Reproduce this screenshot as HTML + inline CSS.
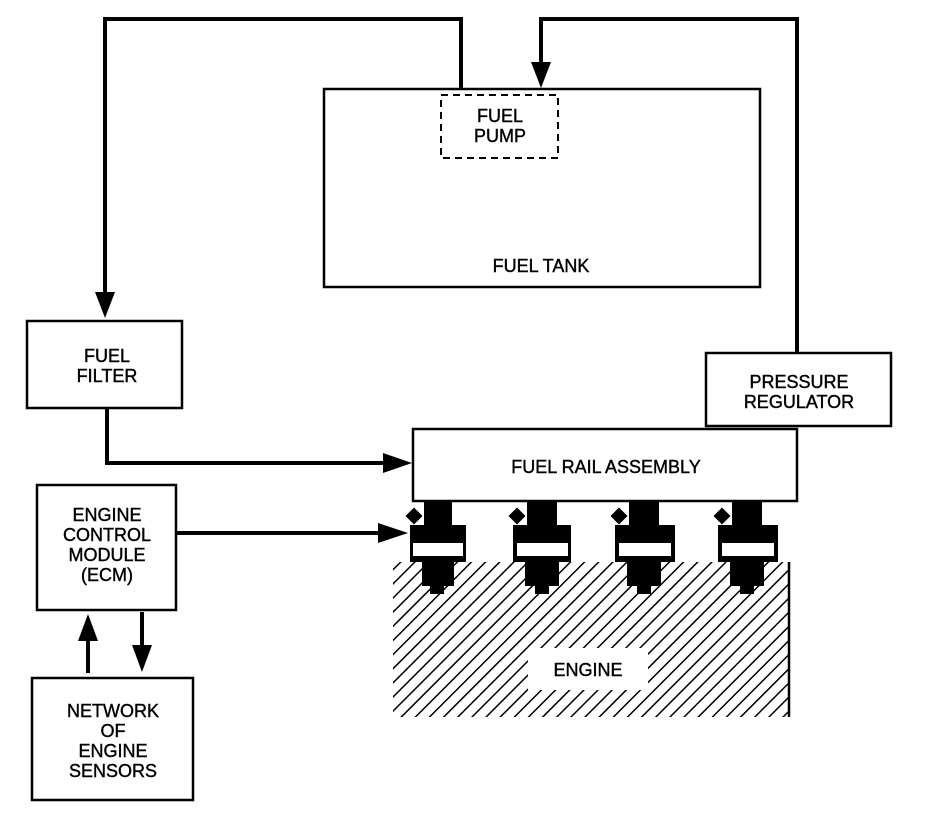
<!DOCTYPE html>
<html><head><style>
html,body{margin:0;padding:0;background:#fff;}
svg{display:block}
text{font-family:"Liberation Sans",sans-serif;font-size:18px;fill:#000;text-anchor:middle;stroke:#000;stroke-width:0.4;}
</style></head><body>
<svg width="928" height="816" viewBox="0 0 928 816" xmlns="http://www.w3.org/2000/svg">
<defs>
<pattern id="h" patternUnits="userSpaceOnUse" width="10" height="10" patternTransform="rotate(45)">
<line x1="0" y1="0" x2="0" y2="10" stroke="#000" stroke-width="3"/>
</pattern>
</defs>
<g fill="none" stroke="#000">
<rect x="324" y="89" width="436" height="198" stroke-width="2.5"/>
<rect x="441" y="95" width="117" height="63" stroke-width="2" stroke-dasharray="7,5"/>
<rect x="27" y="321" width="155" height="87" stroke-width="2.5"/>
<rect x="706" y="353" width="185" height="73" stroke-width="2.5"/>
<rect x="413" y="429" width="384" height="72" stroke-width="2.5"/>
<rect x="37" y="485" width="139" height="125" stroke-width="2.5"/>
<rect x="32" y="678" width="161" height="122" stroke-width="2.5"/>
<polyline points="461,89 461,19 105,19 105,300" stroke-width="4"/>
<polyline points="797,353 797,19 541,19 541,68" stroke-width="4"/>
<polyline points="107,408 107,463 390,463" stroke-width="4"/>
<line x1="176" y1="533" x2="385" y2="533" stroke-width="4"/>
<line x1="88" y1="673" x2="88" y2="635" stroke-width="4"/>
<line x1="142" y1="612" x2="142" y2="655" stroke-width="4"/>
</g>
<g fill="#000">
<polygon points="95,292 115,292 105,318"/>
<polygon points="531,62 551,62 541,88"/>
<polygon points="383,453 383,473 412,463"/>
<polygon points="378,523 378,543 408,533"/>
<polygon points="78,641 98,641 88,614"/>
<polygon points="132,645 152,645 142,672"/>
</g>
<rect x="393" y="562" width="396" height="155" fill="url(#h)"/>
<line x1="789" y1="562" x2="789" y2="717" stroke="#000" stroke-width="2.5"/>
<rect x="528" y="648" width="120" height="42" fill="#fff"/>
<g fill="#000">
<g transform="translate(410,0)">
<rect x="14" y="502" width="28" height="28"/><rect x="0" y="525" width="56" height="37"/>
<rect x="12" y="562" width="32" height="24"/><rect x="20" y="586" width="14" height="8"/>
<rect x="-2" y="510" width="12" height="12" transform="rotate(45 4 516)"/>
</g>
<g transform="translate(513,0)">
<rect x="14" y="502" width="30" height="28"/><rect x="0" y="525" width="58" height="37"/>
<rect x="12" y="562" width="34" height="24"/><rect x="22" y="586" width="14" height="8"/>
<rect x="-2" y="510" width="12" height="12" transform="rotate(45 4 516)"/>
</g>
<g transform="translate(615,0)">
<rect x="14" y="502" width="30" height="28"/><rect x="0" y="525" width="60" height="37"/>
<rect x="12" y="562" width="34" height="24"/><rect x="22" y="586" width="14" height="8"/>
<rect x="-2" y="510" width="12" height="12" transform="rotate(45 4 516)"/>
</g>
<g transform="translate(718,0)">
<rect x="14" y="502" width="30" height="28"/><rect x="0" y="525" width="60" height="37"/>
<rect x="12" y="562" width="34" height="24"/><rect x="22" y="586" width="14" height="8"/>
<rect x="-2" y="510" width="12" height="12" transform="rotate(45 4 516)"/>
</g>
</g>
<g fill="#fff">
<rect x="413" y="543" width="50" height="13"/>
<rect x="517" y="543" width="51" height="13"/>
<rect x="619" y="543" width="52" height="13"/>
<rect x="722" y="543" width="52" height="13"/>
</g>
<text x="500" y="122">FUEL</text>
<text x="500" y="142">PUMP</text>
<text x="541" y="272">FUEL TANK</text>
<text x="107" y="362">FUEL</text>
<text x="107" y="382">FILTER</text>
<text x="799" y="388">PRESSURE</text>
<text x="799" y="408">REGULATOR</text>
<text x="606" y="473">FUEL RAIL ASSEMBLY</text>
<text x="107" y="521">ENGINE</text>
<text x="107" y="541">CONTROL</text>
<text x="107" y="561">MODULE</text>
<text x="107" y="581">(ECM)</text>
<text x="113" y="717">NETWORK</text>
<text x="113" y="737">OF</text>
<text x="113" y="757">ENGINE</text>
<text x="113" y="777">SENSORS</text>
<text x="588" y="676">ENGINE</text>
</svg>
</body></html>
